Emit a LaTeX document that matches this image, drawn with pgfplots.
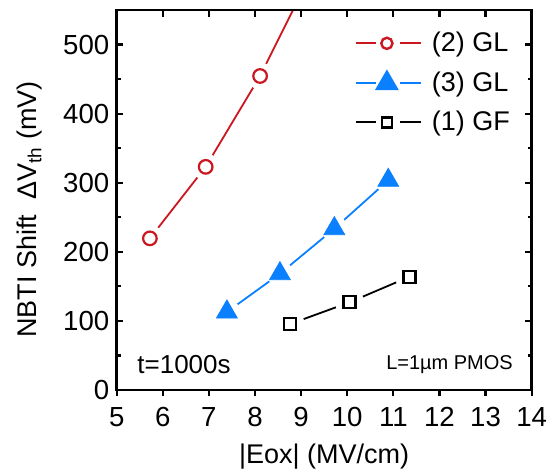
\documentclass[border=0pt]{standalone}
\usepackage{fontspec}
\setmainfont{Liberation Sans}
\usepackage{pgfplots}
\pgfplotsset{compat=1.18}
\definecolor{myred}{RGB}{204,22,32}
\definecolor{myblue}{RGB}{10,128,255}

\begin{document}
\begin{tikzpicture}
\pgfplotsset{
  common/.style={width=207.5pt, height=190pt, scale only axis,
    xmin=5, xmax=14, ymin=0, ymax=550,
    axis line style={line width=1.2pt},
    every tick/.style={line width=1.1pt, black},
    at={(0pt,0pt)}, anchor=south west},
}
\begin{axis}[common,
  xtick={5,...,14}, ytick={0,100,...,500}, minor y tick num=1,
  tick align=inside, xtick pos=top, xticklabel pos=bottom,
  ytick pos=both, yticklabel pos=left,
  major tick length=3.3pt, minor tick length=2pt,
  /pgf/number format/assume math mode=true,
  tick label style={font=\fontsize{13.8}{16}\selectfont},
  xticklabel style={anchor=north, inner sep=0pt, yshift=-8.5pt},
  yticklabel style={anchor=east, inner sep=0pt, xshift=-3.5pt},
  xlabel={|Eox| (MV/cm)},
  ylabel={NBTI Shift\ \ ΔV\textsubscript{th} (mV)},
  label style={font=\fontsize{13.5}{16}\selectfont},
  xlabel style={at={(axis description cs:0.5,-0.174)}, anchor=center, inner sep=0pt},
  ylabel style={at={(axis description cs:-0.209,0.475)}, anchor=center, inner sep=0pt},
  legend style={at={(axis description cs:0.574,0.942)}, anchor=north west,
    draw=none, fill=none, inner sep=0pt, outer sep=0pt, row sep=8.3pt,
    font=\fontsize{13.5}{16}\selectfont, nodes={inner sep=0pt},
    /tikz/every odd column/.style={column sep=5pt}},
  legend cell align=left,
  legend image code/.code={
    \draw[#1, mark=none, line width=1pt] (0pt,0pt) -- (10pt,0pt);
    \draw[#1, mark=none, line width=1pt] (22pt,0pt) -- (32.5pt,0pt);
    \draw[#1] plot coordinates {(15.5pt,0pt)};
  },
]
% connecting lines
\addplot[myred, line width=0.9pt, mark=none, forget plot] coordinates {(5.72,219.5)(6.93,323)(8.11,454.5)(9.35,620)};
\addplot[myblue, line width=0.9pt, mark=none, forget plot] coordinates {(7.39,112.9)(8.54,168.3)(9.72,233.5)(10.89,303.5)};
\addplot[black, line width=0.9pt, mark=none, forget plot] coordinates {(8.76,95.5)(10.05,126.9)(11.35,164)};
% white halos (gaps around markers)
\addplot[white, only marks, mark=*, mark size=6.6pt, mark options={draw=white, fill=white}, forget plot] coordinates {(5.72,219.5)(6.93,323)(8.11,454.5)};
\addplot[white, only marks, mark=*, mark size=6.4pt, mark options={draw=white, fill=white}, forget plot] coordinates {(7.39,112.9)(8.54,168.3)(9.72,233.5)(10.89,303.5)};
\addplot[white, only marks, mark=*, mark size=7pt, mark options={draw=white, fill=white}, forget plot] coordinates {(8.76,95.5)(10.05,126.9)(11.35,164)};
% markers
\addplot[only marks, myred, mark=o, mark size=3.4pt, mark options={line width=1.1pt}, forget plot] coordinates {(5.72,219.5)(6.93,323)(8.11,454.5)};
\addplot[only marks, myblue, mark=triangle*, mark size=6pt, forget plot] coordinates {(7.39,112.9)(8.54,168.3)(9.72,233.5)(10.89,303.5)};
\addplot[only marks, black, mark=square, mark size=3pt, mark options={line width=1.1pt}, forget plot] coordinates {(8.76,95.5)(10.05,126.9)(11.35,164)};
% legend
\addlegendimage{myred, line width=0.9pt, mark=o, mark size=2.8pt, mark options={line width=1.2pt}}
\addlegendentry{(2) GL}
\addlegendimage{myblue, line width=0.9pt, mark=triangle*, mark size=6pt}
\addlegendentry{(3) GL}
\addlegendimage{black, line width=0.9pt, mark=square, mark size=2.5pt, mark options={line width=1.3pt}}
\addlegendentry{(1) GF}
% annotations
\node[anchor=base west, inner sep=0pt, font=\fontsize{13}{15}\selectfont] at (axis cs:5.44,24.6) {t=1000s};
\node[anchor=base east, inner sep=0pt, font=\fontsize{10}{12}\selectfont] at (axis cs:13.6,30.4) {L=1µm PMOS};
\end{axis}
\begin{axis}[common, hide y axis,
  xtick={5,...,14}, xtick pos=bottom, tick align=outside, xticklabels={},
  major tick length=2.85pt]
\end{axis}
\pgfresetboundingbox
\path[use as bounding box] (-58.35pt,-41.5pt) rectangle (218.65pt,195pt);
\end{tikzpicture}
\end{document}
